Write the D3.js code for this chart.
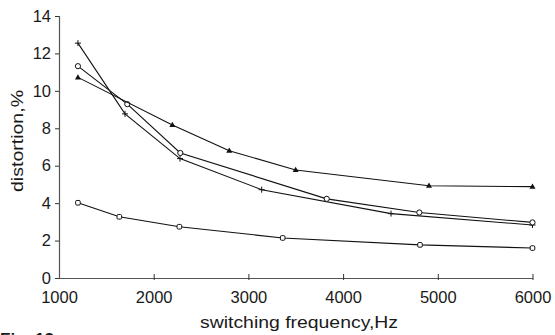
<!DOCTYPE html>
<html><head><meta charset="utf-8">
<script src="https://cdn.jsdelivr.net/npm/d3@7"></script>
<style>
html,body{margin:0;padding:0;background:#fff;}
svg text{font-family:"Liberation Sans",Arial,sans-serif;fill:#1a1a1a;}
</style></head>
<body><svg id="c" width="555" height="335"></svg>
<script>
const xTicks = [1000, 2000, 3000, 4000, 5000, 6000];
const yTicks = [0, 2, 4, 6, 8, 10, 12, 14];
const plusX = [1200, 1697, 2278, 3140, 4506, 6000];
const plusY = [12.55, 8.77, 6.38, 4.72, 3.44, 2.83];
const circX = [1200, 1721, 2281, 3827, 4805, 6000];
const circY = [11.32, 9.29, 6.68, 4.23, 3.50, 2.97];
const triX = [1200, 2197, 2798, 3499, 4907, 6000];
const triY = [10.72, 8.18, 6.80, 5.77, 4.93, 4.88];
const sqX = [1200, 1637, 2271, 3362, 4812, 6000];
const sqY = [4.02, 3.27, 2.74, 2.14, 1.77, 1.60];
const xTitle = "switching frequency,Hz";
const yTitle = "distortion,%";
const figLabel = "Fig. 13";

const svg = d3.select("#c");
const x = d3.scaleLinear().domain([1000, 6000]).range([59, 532.5]);
const y = d3.scaleLinear().domain([0, 14]).range([278, 16]);
const FS = 16.5;

// axes
const ax = svg.append("g").attr("transform", "translate(0,278)")
  .call(d3.axisBottom(x).tickValues(xTicks).tickSize(0).tickPadding(13).tickFormat(d3.format("d")));
ax.select(".domain").attr("stroke", "#555").attr("stroke-width", 1.2);
ax.selectAll(".tick text").attr("font-size", FS).attr("fill", "#1a1a1a").attr("font-family", "Liberation Sans, Arial, sans-serif");
ax.selectAll(".tick").filter(d => d > 1000).append("line").attr("y1", -4).attr("y2", 2).attr("stroke", "#333");

const ay = svg.append("g").attr("transform", "translate(59,0)")
  .call(d3.axisLeft(y).tickValues(yTicks).tickSize(4).tickPadding(4).tickFormat(d3.format("d")));
ay.select(".domain").attr("stroke", "#555").attr("stroke-width", 1.2);
ay.selectAll(".tick line").attr("stroke", "#333");
ay.selectAll(".tick text").attr("font-size", FS).attr("fill", "#1a1a1a").attr("font-family", "Liberation Sans, Arial, sans-serif");

// titles
svg.append("text").attr("x", 299).attr("y", 328).attr("text-anchor", "middle")
  .attr("font-size", 16).attr("font-family", "DejaVu Sans, sans-serif")
  .attr("textLength", 198).attr("lengthAdjust", "spacingAndGlyphs").text(xTitle);
svg.append("text").attr("transform", "translate(23,141) rotate(-90)").attr("text-anchor", "middle")
  .attr("font-size", 16).attr("font-family", "DejaVu Sans, sans-serif")
  .attr("textLength", 102).attr("lengthAdjust", "spacingAndGlyphs").text(yTitle);
svg.append("text").attr("x", 0).attr("y", 345).attr("font-size", 17).attr("font-weight", "bold").text(figLabel);

const line = d3.line().x(d => x(d[0])).y(d => y(d[1]));
const series = [
  {xs: plusX, ys: plusY, m: "plus"},
  {xs: circX, ys: circY, m: "circle"},
  {xs: triX, ys: triY, m: "tri"},
  {xs: sqX, ys: sqY, m: "square"}
];
series.forEach(s => {
  const pts = s.xs.map((v, i) => [v, s.ys[i]]);
  svg.append("path").datum(pts).attr("d", line).attr("fill", "none").attr("stroke", "#111").attr("stroke-width", 1.1);
  const g = svg.append("g");
  pts.forEach(p => {
    const cx = x(p[0]), cy = y(p[1]);
    if (s.m === "plus") {
      g.append("path").attr("d", `M${cx-3},${cy}H${cx+3}M${cx},${cy-3}V${cy+3}`).attr("stroke", "#111").attr("stroke-width", 1);
    } else if (s.m === "circle") {
      g.append("circle").attr("cx", cx).attr("cy", cy).attr("r", 2.6).attr("fill", "#fff").attr("stroke", "#111").attr("stroke-width", 1);
    } else if (s.m === "tri") {
      g.append("path").attr("d", `M${cx},${cy-3.2}L${cx+3},${cy+2}L${cx-3},${cy+2}Z`).attr("fill", "#111");
    } else {
      g.append("rect").attr("x", cx-2.3).attr("y", cy-2.3).attr("width", 4.6).attr("height", 4.6).attr("rx", 1.2).attr("fill", "#fff").attr("stroke", "#111").attr("stroke-width", 1);
    }
  });
});
</script></body></html>
